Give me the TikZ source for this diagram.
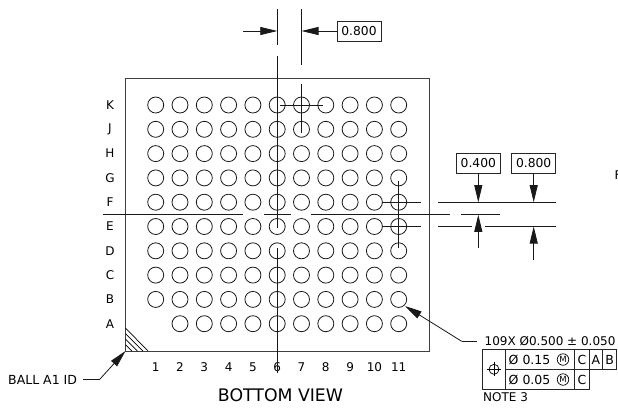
\documentclass[tikz,border=0pt]{standalone}
\usepackage{fontspec}
\setmainfont{DejaVu Sans}
\usetikzlibrary{arrows.meta}
\tikzset{
  ball/.style={circle,draw=black!90,line width=0.8pt,minimum size=16pt,inner sep=0pt},
  dim/.style={draw=black!90,line width=0.8pt},
  leader/.style={draw=black!90,line width=0.8pt,-{Triangle[length=17pt,width=8pt]}},
  boxed/.style={draw=black!85,line width=0.8pt,fill=white,inner sep=0pt,minimum width=44pt,minimum height=20pt,font=\fontsize{12.3}{13}\selectfont},
  lab/.style={inner sep=0pt,font=\fontsize{12}{13}\selectfont},
  txt/.style={inner sep=0pt,font=\fontsize{12.5}{13}\selectfont},
  cell/.style={draw=black!85,line width=0.8pt},
  mm/.style={circle,draw=black,line width=0.7pt,inner sep=0pt,minimum size=11.5pt,font=\fontsize{8.5}{9}\selectfont}
}
\begin{document}
\begin{tikzpicture}[x=1pt,y=-1pt]
\useasboundingbox (0,0) rectangle (618,408);
% package outline
\draw[draw=black!75,line width=0.9pt] (125.5,78) rectangle (429,351);
% hatch
\coordinate (hA) at (125.5,328);
\coordinate (hB) at (148,351);
\coordinate (corner) at (125.5,351);
\draw[line width=0.7pt] (hA) -- (hB);
\draw[line width=0.7pt] (125.5,333.5) -- (143,351) (125.5,339) -- (137.5,351) (125.5,344.5) -- (132,351);
% balls
\foreach \r/\y/\l in {0/105/K,1/129.3/J,2/153.6/H,3/177.9/G,4/202.2/F,5/226.5/E,6/250.8/D,7/275.1/C,8/299.4/B,9/323.7/A}{
  \node[lab] (row\r) at (110,\y) {\l};
  \foreach \c in {1,...,11}{
    \pgfmathsetmacro{\xx}{155.7+24.3*(\c-1)}
    \ifnum\r=9 \ifnum\c=1 \else \node[ball] (b\r-\c) at (\xx,\y) {}; \fi
    \else \node[ball] (b\r-\c) at (\xx,\y) {}; \fi
  }
}
\foreach \c in {1,...,11}{
  \pgfmathsetmacro{\xx}{155.7+24.3*(\c-1)}
  \node[lab] (col\c) at (\xx,367) {\c};
}
% centre lines
\draw[dim] (103,214.5) -- (243,214.5) (264,214.5) -- (291,214.5) (311,214.5) -- (450,214.5) (461,214.5) -- (500,214.5);
\draw[dim] (277.3,56) -- (277.3,228) (277.3,248) -- (277.3,373);
\draw[dim] (277.3,9) -- (277.3,45);
\draw[dim] (301.5,9) -- (301.5,65) (301.5,84) -- (301.5,133);
\draw[dim] (280,105) -- (323,105);
\draw[dim] (398.7,180.7) -- (398.7,248);
\draw[dim] (381.7,202.2) -- (420.7,202.2) (381.7,226.5) -- (420.7,226.5);
% top dimension
\node[boxed] (t800) at (359,31) {0.800};
\coordinate (tl) at (243,31); \coordinate (tlt) at (277.3,31); \coordinate (trt) at (301.5,31);
\draw[leader] (tl) -- (tlt);
\draw[leader] (t800) -- (trt);
% right dimensions
\node[boxed] (r400) at (478.3,163) {0.400};
\node[boxed] (r800) at (533.7,163) {0.800};
\draw[dim] (438,202.2) -- (555.7,202.2);
\draw[dim] (438,226.5) -- (472,226.5) (485,226.5) -- (555.7,226.5);
\coordinate (a1) at (478.3,202.2); \coordinate (a2) at (533.7,202.2);
\coordinate (b1) at (478.3,214.8); \coordinate (b2) at (533.7,226.5);
\coordinate (c1) at (478.3,248); \coordinate (c2) at (533.7,260);
\draw[leader] (r400) -- (a1);
\draw[leader] (r800) -- (a2);
\draw[leader] (c1) -- (b1);
\draw[leader] (c2) -- (b2);
% ball A1 leader
\node[txt,anchor=west] (ballid) at (8,379.5) {BALL A1 ID};
\coordinate (k1) at (100,379);
\draw[dim] (83,379) -- (k1);
\draw[leader] (k1) -- (corner);
% position callout
\coordinate (k2) at (461.7,341.3);
\coordinate (tipb) at (405,306);
\draw[dim] (k2) -- (477,341.3);
\draw[leader] (k2) -- (tipb);
\node[txt,anchor=west,font=\fontsize{12}{13}\selectfont] (spec) at (484.5,341.5) {109X Ø0.500 ± 0.050};
% feature control frame
\draw[cell] (482.7,349.3) rectangle (505.3,389);
\draw[cell] (505.3,349.3) rectangle (574.7,369.3);
\draw[cell] (574.7,349.3) rectangle (589.3,369.3);
\draw[cell] (589.3,349.3) rectangle (602.7,369.3);
\draw[cell] (602.7,349.3) rectangle (616.7,369.3);
\draw[cell] (505.3,369.3) rectangle (574.7,389);
\draw[cell] (574.7,369.3) rectangle (589.3,389);
\node[circle,draw=black,line width=0.7pt,minimum size=10pt,inner sep=0pt] (pos) at (494,369.3) {};
\draw[line width=0.7pt] (487,369.3) -- (501,369.3) (494,362.3) -- (494,376.3);
\node[txt,anchor=west,font=\fontsize{12.5}{13}\selectfont] (f1) at (508.5,359.5) {Ø 0.15};
\node[mm] (m1) at (563,359.5) {M};
\node[txt] (c1t) at (582,359.5) {C};
\node[txt] (a1t) at (596,359.5) {A};
\node[txt] (b1t) at (609.7,359.5) {B};
\node[txt,anchor=west,font=\fontsize{12.5}{13}\selectfont] (f2) at (508.5,379.5) {Ø 0.05};
\node[mm] (m2) at (563,379.5) {M};
\node[txt] (c2t) at (582,379.5) {C};
\node[txt,anchor=west,font=\fontsize{12}{13}\selectfont] (note) at (483,397.5) {NOTE 3};
\node[inner sep=0pt,font=\fontsize{17.3}{19}\selectfont] (title) at (280.5,395) {BOTTOM VIEW};
\node[lab,anchor=west] (cut) at (614.5,175) {F};
\end{tikzpicture}
\end{document}
